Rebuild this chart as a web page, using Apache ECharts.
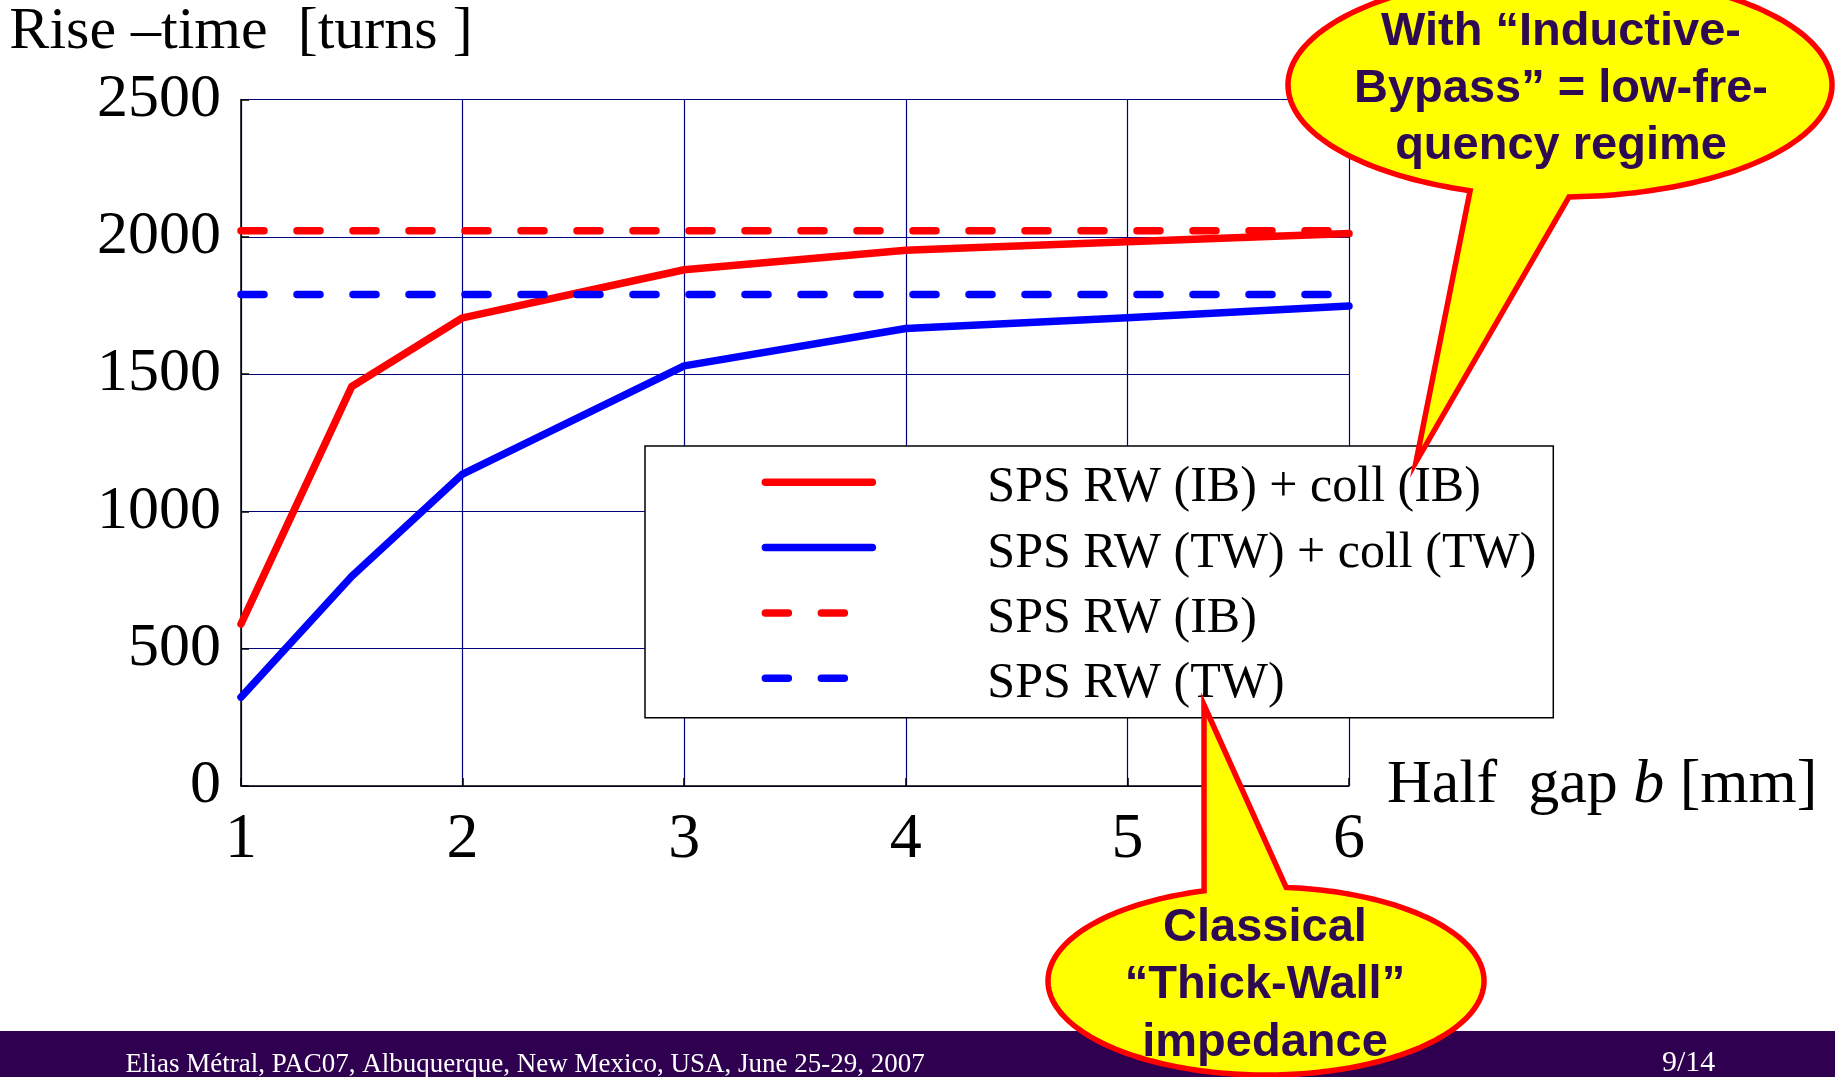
<!DOCTYPE html>
<html>
<head>
<meta charset="utf-8">
<script src="https://cdn.jsdelivr.net/npm/echarts@6/dist/echarts.min.js"></script>
<style>
  html, body { margin: 0; padding: 0; background: #ffffff; }
  #chart { width: 1835px; height: 1077px; }
</style>
</head>
<body>
<div id="chart"></div>
<script>
// Half gap b [mm]
const halfGap = [1, 1.5, 2, 3, 4, 5, 6];
// Rise-time [turns] for each model
const rwIbCollIb = [590, 1455, 1705, 1880, 1951, 1982, 2012];
const rwTwCollTw = [323, 764, 1136, 1530, 1666, 1705, 1748];
const rwIb = [2022, 2022, 2022, 2022, 2022, 2022, 2022];
const rwTw = [1790, 1790, 1790, 1790, 1790, 1790, 1790];
const seriesNames = ['SPS RW (IB) + coll (IB)', 'SPS RW (TW) + coll (TW)', 'SPS RW (IB)', 'SPS RW (TW)'];
const yRange = { min: 0, max: 2500, step: 500 };
const xRange = { min: 1, max: 6, step: 1 };

const serif = '"Liberation Serif", "Times New Roman", serif';
const sans = '"Liberation Sans", Arial, sans-serif';
const RED = '#ff0000';
const BLUE = '#0000ff';
const GRID = '#000080';
const CALLOUT_TEXT = '#2d0a52';

const pairs = (ys) => halfGap.map((x, i) => [x, ys[i]]);

function lineSeries(name, ys, color, dashed) {
  return {
    name: name,
    type: 'line',
    data: pairs(ys),
    symbol: 'none',
    silent: true,
    z: 3,
    itemStyle: { color: color },
    lineStyle: {
      color: color,
      width: 7.5,
      type: dashed ? [23, 33] : 'solid',
      cap: 'round',
      join: 'round'
    }
  };
}

// speech-bubble outline as a polygon: tip, one tail base, long way round the ellipse, other tail base
function bubblePoints(cx, cy, rx, ry, ta, tb, tip) {
  const a = ta * Math.PI / 180;
  const b = tb * Math.PI / 180;
  let d = a - b;
  while (d > Math.PI) d -= 2 * Math.PI;
  while (d <= -Math.PI) d += 2 * Math.PI;
  const sweep = d - Math.sign(d) * 2 * Math.PI;
  const pts = [tip];
  const n = 240;
  for (let k = 0; k <= n; k++) {
    const t = b + sweep * k / n;
    pts.push([cx + rx * Math.cos(t), cy + ry * Math.sin(t)]);
  }
  return pts;
}

const chart = echarts.init(document.getElementById('chart'), null, { renderer: 'canvas' });

chart.setOption({
  animation: false,
  backgroundColor: '#ffffff',
  grid: { left: 241, right: 486, top: 99.5, bottom: 291, outerBoundsMode: 'none', containLabel: false },
  xAxis: {
    type: 'value',
    min: xRange.min, max: xRange.max, interval: xRange.step,
    name: '{n|Half  gap }{i|b}{n| [mm]}',
    nameLocation: 'end',
    nameGap: 38,
    nameMoveOverlap: false,
    nameTextStyle: {
      align: 'left', verticalAlign: 'middle',
      rich: {
        n: { fontFamily: serif, fontSize: 62, color: '#000' },
        i: { fontFamily: serif, fontSize: 62, fontStyle: 'italic', color: '#000' }
      }
    },
    axisLine: { show: true, onZero: false, lineStyle: { color: '#000', width: 1.5 } },
    axisTick: { show: true, inside: true, length: 8, lineStyle: { color: '#000', width: 1.5 } },
    axisLabel: { fontFamily: serif, fontSize: 64, color: '#000', margin: 22 },
    splitLine: { show: true, showMinLine: true, showMaxLine: true, lineStyle: { color: GRID, width: 1.2 } }
  },
  yAxis: {
    type: 'value',
    min: yRange.min, max: yRange.max, interval: yRange.step,
    name: 'Rise –time  [turns ]',
    nameLocation: 'end',
    nameGap: 67,
    nameMoveOverlap: false,
    nameTextStyle: { fontFamily: serif, fontSize: 60, color: '#000', align: 'center', verticalAlign: 'middle' },
    axisLine: { show: true, onZero: false, lineStyle: { color: '#000', width: 1.5 } },
    axisTick: { show: true, inside: true, length: 8, lineStyle: { color: '#000', width: 1.5 } },
    axisLabel: { fontFamily: serif, fontSize: 62, color: '#000', margin: 20, formatter: (v) => String(v) },
    splitLine: { show: true, showMinLine: true, showMaxLine: true, lineStyle: { color: GRID, width: 1.2 } }
  },
  legend: {
    data: seriesNames,
    orient: 'vertical',
    left: 645,
    top: 446,
    padding: [5.3, 17, 8.5, 116.6],
    itemWidth: 107,
    itemHeight: 14,
    itemGap: 3.3,
    selectedMode: false,
    backgroundColor: '#ffffff',
    borderColor: '#000000',
    borderWidth: 1.5,
    borderRadius: 0,
    lineStyle: { width: 7.5, cap: 'round' },
    itemStyle: { opacity: 0 },
    formatter: '{t|{name}}',
    textStyle: {
      fontFamily: serif, fontSize: 50, color: '#000',
      rich: {
        t: { fontFamily: serif, fontSize: 50, lineHeight: 50, color: '#000', padding: [12, 0, 0, 110] }
      }
    },
    z: 5
  },
  series: [
    lineSeries(seriesNames[0], rwIbCollIb, RED, false),
    lineSeries(seriesNames[1], rwTwCollTw, BLUE, false),
    lineSeries(seriesNames[2], rwIb, RED, true),
    lineSeries(seriesNames[3], rwTw, BLUE, true)
  ],
  graphic: [
    {
      type: 'rect', z: 50, silent: true,
      shape: { x: 0, y: 1031, width: 1835, height: 46 },
      style: { fill: '#2e004f' }
    },
    {
      type: 'text', z: 51, silent: true, x: 125.6, y: 1064.7,
      style: {
        text: 'Elias Métral, PAC07, Albuquerque, New Mexico, USA, June 25-29, 2007',
        fill: '#ffffff', fontFamily: serif, fontSize: 27, verticalAlign: 'middle', align: 'left'
      }
    },
    {
      type: 'text', z: 51, silent: true, x: 1662, y: 1063.5,
      style: { text: '9/14', fill: '#ffffff', fontFamily: serif, fontSize: 30, verticalAlign: 'middle', align: 'left' }
    },
    {
      type: 'polygon', z: 60, silent: true,
      shape: { points: bubblePoints(1560, 85, 272, 112, 109.3, 88.1, [1416, 462]) },
      style: { fill: '#ffff00', stroke: RED, lineWidth: 5.5, lineJoin: 'miter' }
    },
    {
      type: 'text', z: 61, silent: true, x: 1561, y: 89,
      style: {
        text: 'With “Inductive-\nBypass” = low-fre-\nquency regime',
        fill: CALLOUT_TEXT, fontFamily: sans, fontWeight: 'bold', fontSize: 47, lineHeight: 57,
        align: 'center', verticalAlign: 'middle'
      }
    },
    {
      type: 'polygon', z: 60, silent: true,
      shape: { points: bubblePoints(1266, 981, 218, 94, 253.5, 275.3, [1204, 705]) },
      style: { fill: '#ffff00', stroke: RED, lineWidth: 5.5, lineJoin: 'miter' }
    },
    {
      type: 'text', z: 61, silent: true, x: 1265, y: 985.5,
      style: {
        text: 'Classical\n“Thick-Wall”\nimpedance',
        fill: CALLOUT_TEXT, fontFamily: sans, fontWeight: 'bold', fontSize: 47, lineHeight: 57.5,
        align: 'center', verticalAlign: 'middle'
      }
    }
  ]
});
</script>
</body>
</html>
